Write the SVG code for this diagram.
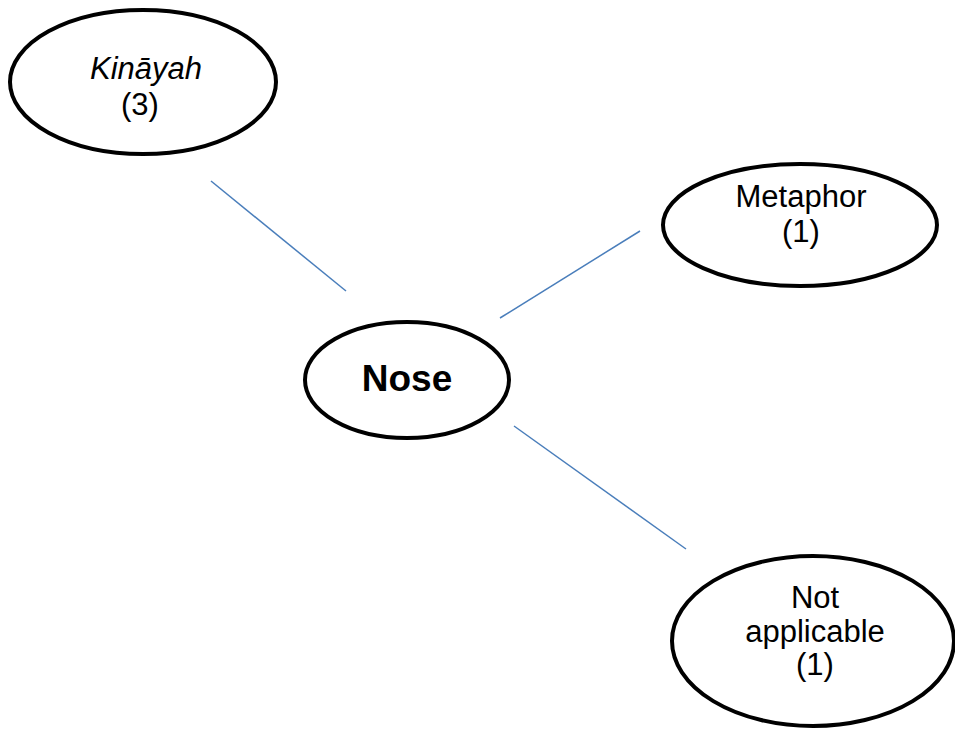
<svg xmlns="http://www.w3.org/2000/svg" width="955" height="729" viewBox="0 0 955 729">
  <style>
    .node { fill: #ffffff; stroke: #000000; stroke-width: 4; }
    .edge { stroke: #4a7ebb; stroke-width: 1.5; fill: none; }
    .lbl { font-family: "Liberation Sans", Arial, sans-serif; font-size: 31px; fill: #000000; text-anchor: middle; }
    .hub { font-size: 37px; font-weight: bold; }
  </style>
  <rect width="955" height="729" fill="#ffffff"/>
  <g id="connectors">
    <line class="edge" x1="211" y1="181" x2="346" y2="291"/>
    <line class="edge" x1="500" y1="318" x2="640" y2="231"/>
    <line class="edge" x1="514" y1="426" x2="686" y2="549"/>
  </g>
  <g id="kinayah">
    <ellipse class="node" cx="143" cy="82" rx="133" ry="72"/>
    <text class="lbl" x="146" y="79" font-style="italic">Kināyah</text>
    <text class="lbl" x="140" y="115">(3)</text>
  </g>
  <g id="nose">
    <ellipse class="node" cx="407" cy="380" rx="102" ry="58"/>
    <text class="lbl hub" x="407" y="391">Nose</text>
  </g>
  <g id="metaphor">
    <ellipse class="node" cx="800" cy="225" rx="137" ry="61"/>
    <text class="lbl" x="801" y="207">Metaphor</text>
    <text class="lbl" x="801" y="242">(1)</text>
  </g>
  <g id="not-applicable">
    <ellipse class="node" cx="813" cy="641" rx="141" ry="85"/>
    <text class="lbl" x="815" y="608">Not</text>
    <text class="lbl" x="815" y="642">applicable</text>
    <text class="lbl" x="815" y="675">(1)</text>
  </g>
</svg>
